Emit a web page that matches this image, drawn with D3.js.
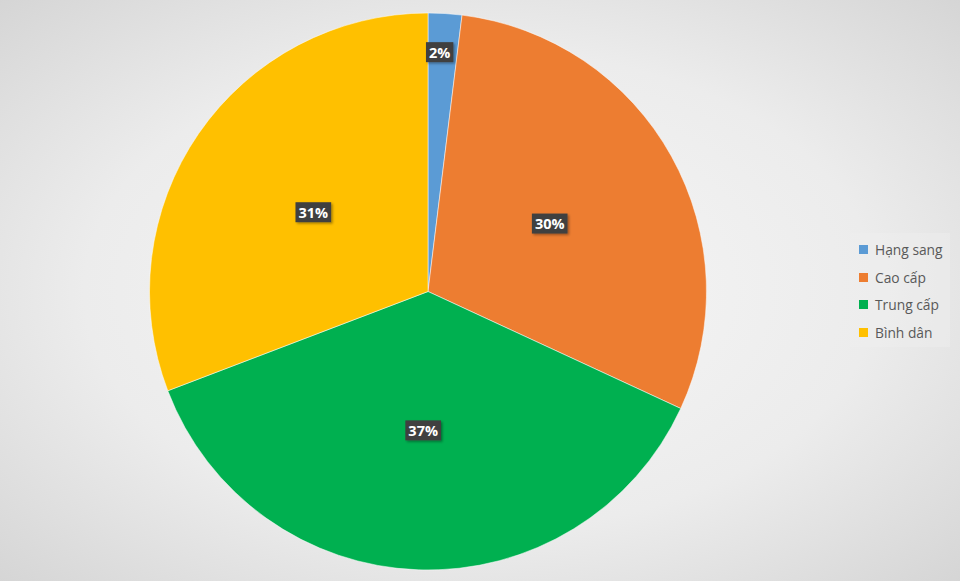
<!DOCTYPE html>
<html><head><meta charset="utf-8">
<script src="https://cdn.jsdelivr.net/npm/d3@7"></script>
<style>html,body{margin:0;padding:0;overflow:hidden;}</style>
</head><body>
<svg id="chart" width="960" height="581"></svg>
<script>
const categories = ["Hạng sang", "Cao cấp", "Trung cấp", "Bình dân"];
const values = [1.95, 29.95, 37.3, 30.8];
const labels = ["2%", "30%", "37%", "31%"];
const colors = ["#5B9BD5", "#ED7D31", "#00B050", "#FFC000"];

const svg = d3.select("#chart");
const defs = svg.append("defs");
const bg = defs.append("radialGradient").attr("id","bg").attr("cx","50%").attr("cy","50%").attr("r","75%");
bg.append("stop").attr("offset","0%").attr("stop-color","#f7f7f7");
bg.append("stop").attr("offset","55%").attr("stop-color","#ececec");
bg.append("stop").attr("offset","100%").attr("stop-color","#d2d2d2");
const sh = defs.append("filter").attr("id","sh").attr("x","-20%").attr("y","-20%").attr("width","150%").attr("height","160%");
sh.append("feDropShadow").attr("dx",1.5).attr("dy",1.5).attr("stdDeviation",1.2).attr("flood-color","#000").attr("flood-opacity",0.35);

svg.append("rect").attr("width",960).attr("height",581).attr("fill","url(#bg)");

const cx = 428, cy = 291.5, r = 278.5;
const g = svg.append("g").attr("transform",`translate(${cx},${cy})`);
const pie = d3.pie().sort(null).value(d => d.v);
const data = pie(categories.map((c,i)=>({c, v: values[i], l: labels[i], col: colors[i]})));
const arc = d3.arc().innerRadius(0).outerRadius(r);
g.selectAll("path").data(data).join("path")
  .attr("d", arc).attr("fill", d => d.data.col)
  .attr("stroke","#ffffff").attr("stroke-width",0.5);

data.forEach(d => {
  const small = (d.endAngle - d.startAngle) < 0.2;
  const rr = small ? r*0.86 : r*0.5;
  const a = (d.startAngle + d.endAngle)/2;
  const x = Math.sin(a)*rr - (small ? 3 : 0), y = -Math.cos(a)*rr;
  const lg = g.append("g").attr("transform",`translate(${x},${y})`);
  const t = lg.append("text").attr("text-anchor","middle").attr("dy","0.36em")
    .attr("font-family","'Open Sans', 'Liberation Sans', sans-serif").attr("font-weight","bold")
    .attr("font-size",14.5).attr("fill","#ffffff").text(d.data.l);
  const bb = t.node().getBBox();
  lg.insert("rect","text").attr("x",bb.x-3).attr("y",bb.y-0.5).attr("width",bb.width+6).attr("height",bb.height+1)
    .attr("fill","#404040").attr("filter","url(#sh)");
});

// legend
const leg = svg.append("g").attr("transform","translate(850,233)");
leg.append("rect").attr("x",0).attr("y",0).attr("width",100).attr("height",114).attr("fill","#f2f2f2").attr("opacity",0.35);
const ys = [17, 45, 72, 100];
categories.forEach((c,i) => {
  const it = leg.append("g").attr("transform",`translate(0,${ys[i]})`);
  it.append("rect").attr("x",9).attr("y",-5).attr("width",9).attr("height",9).attr("fill",colors[i]);
  it.append("text").attr("x",25).attr("dy","0.35em")
    .attr("font-family","'Open Sans', 'Liberation Sans', sans-serif").attr("font-size",13.8).attr("fill","#595959").text(c);
});
</script>
</body></html>
